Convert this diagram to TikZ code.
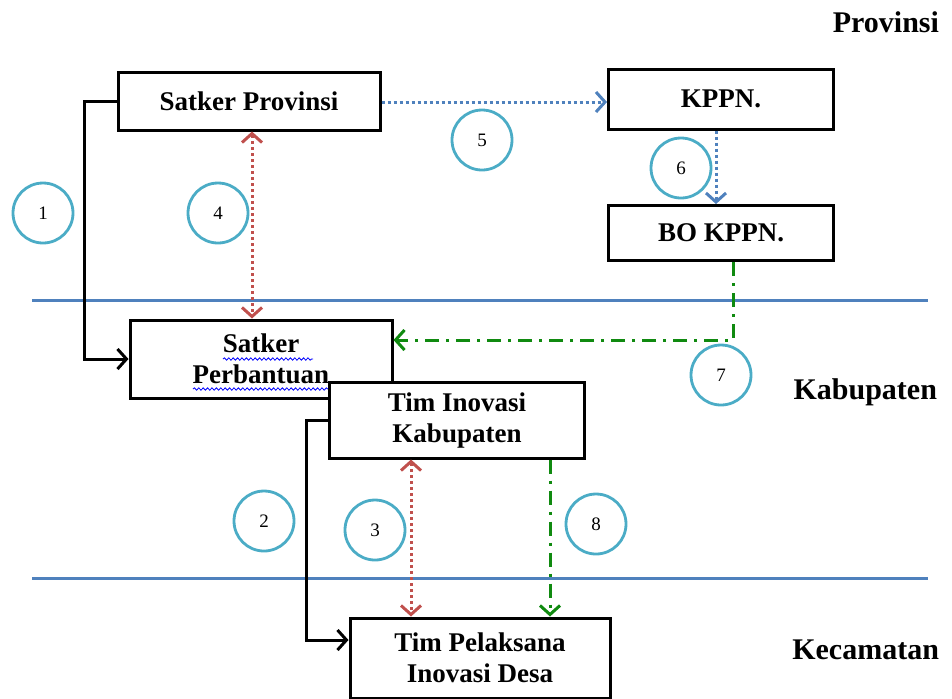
\documentclass[tikz,border=0pt]{standalone}
\usepackage{fontspec}
\setmainfont{Liberation Serif}
\usepackage{tikz}
\usetikzlibrary{arrows.meta, decorations.pathmorphing, calc}
\definecolor{officeblue}{HTML}{4F81BD}
\definecolor{officered}{HTML}{C0504D}
\definecolor{officeaqua}{HTML}{4BACC6}
\definecolor{darkgreen}{HTML}{108A10}
\tikzstyle{unit} = [rectangle, draw=black, line width=1.5pt, fill=white, align=center, inner sep=2pt, font=\fontsize{13.5}{15.5}\selectfont\bfseries]
\tikzstyle{num} = [circle, draw=officeaqua, line width=1.4pt, minimum size=30pt, inner sep=0pt, font=\fontsize{9.5}{10}\selectfont]
\tikzstyle{level} = [anchor=east, font=\fontsize{15}{17}\selectfont\bfseries]
\tikzstyle{tip} = [-{Straight Barb[length=4.5pt,width=10pt]}]
\tikzstyle{tips} = [{Straight Barb[length=4.5pt,width=10pt]}-{Straight Barb[length=4.5pt,width=10pt]}]

\begin{document}
\begin{tikzpicture}[x=0.5pt, y=-0.5pt]
\useasboundingbox (0,0) rectangle (952,698);
% garis batas wilayah
\draw[officeblue, line width=1.5pt] (32,300) -- (928,300);
\draw[officeblue, line width=1.5pt] (32,578) -- (928,578);
\node[level] (prov) at (946,22) {Provinsi};
\node[level] (kab) at (944,392) {Kabupaten};
\node[level] (kec) at (946,650) {Kecamatan};
% kotak
\node (sprov) [unit, minimum width=131pt, minimum height=29pt] at (249,101) {Satker Provinsi};
\node (kppn) [unit, minimum width=112.5pt, minimum height=30pt] at (721,99) {KPPN.};
\node (bo) [unit, minimum width=112.5pt, minimum height=27.5pt] at (721,233) {BO KPPN.};
\node (sperb) [unit, minimum width=131pt, minimum height=39pt] at (261,359) {Satker\\Perbantuan};
\draw[blue, line width=0.4pt, decorate, decoration={snake, segment length=2.2pt, amplitude=0.6pt}]
  ($(sperb.center)+(-38,0)$) -- ($(sperb.center)+(52,0)$);
\draw[blue, line width=0.4pt, decorate, decoration={snake, segment length=2.2pt, amplitude=0.6pt}]
  ($(sperb.center)+(-68,30)$) -- ($(sperb.center)+(67,30)$);
\node (tik) [unit, minimum width=127.5pt, minimum height=38pt] at (457,420) {Tim Inovasi\\Kabupaten};
\node (tpl) [unit, minimum width=130pt, minimum height=40pt] at (480,658) {Tim Pelaksana\\Inovasi Desa};
% alur
\draw[tip, line width=1.5pt] (sprov.west) -- ++(-32,0) |- (sperb.west);
\draw[tip, line width=1.5pt] (tik.west) -- ++(-22,0) |- ([yshift=9pt]tpl.west);
\draw[tips, officered, line width=1.5pt, dash pattern=on 1.5pt off 1.5pt] ([xshift=1.5pt]sprov.south) -- ([xshift=1.5pt]sprov.south |- sperb.north);
\draw[tips, officered, line width=1.5pt, dash pattern=on 1.5pt off 1.5pt] ([xshift=-23pt]tik.south) -- ([xshift=-23pt]tik.south |- tpl.north);
\draw[tip, officeblue, line width=1.5pt, dash pattern=on 1.5pt off 1.5pt] ([yshift=-0.5pt]sprov.east) -- ([yshift=-0.5pt]sprov.east -| kppn.west);
\draw[tip, officeblue, line width=1.5pt, dash pattern=on 1.5pt off 1.5pt] ([xshift=-2.5pt]kppn.south) -- ([xshift=-2.5pt]kppn.south |- bo.north);
\draw[tip, darkgreen, line width=1.5pt, dash pattern=on 7pt off 3.5pt on 1.5pt off 3.5pt] ([xshift=6pt]bo.south) |- ([yshift=9.5pt]sperb.east);
\draw[tip, darkgreen, line width=1.5pt, dash pattern=on 7pt off 3.5pt on 1.5pt off 3.5pt] ([xshift=46.5pt]tik.south) -- ([xshift=46.5pt]tik.south |- tpl.north);
% nomor
\node[num] (n1) at (43,213) {1};
\node[num] (n2) at (264,521) {2};
\node[num] (n3) at (375,530) {3};
\node[num] (n4) at (218,213) {4};
\node[num] (n5) at (482,140) {5};
\node[num] (n6) at (681,168) {6};
\node[num] (n7) at (721,375) {7};
\node[num] (n8) at (596,524) {8};
\end{tikzpicture}
\end{document}
